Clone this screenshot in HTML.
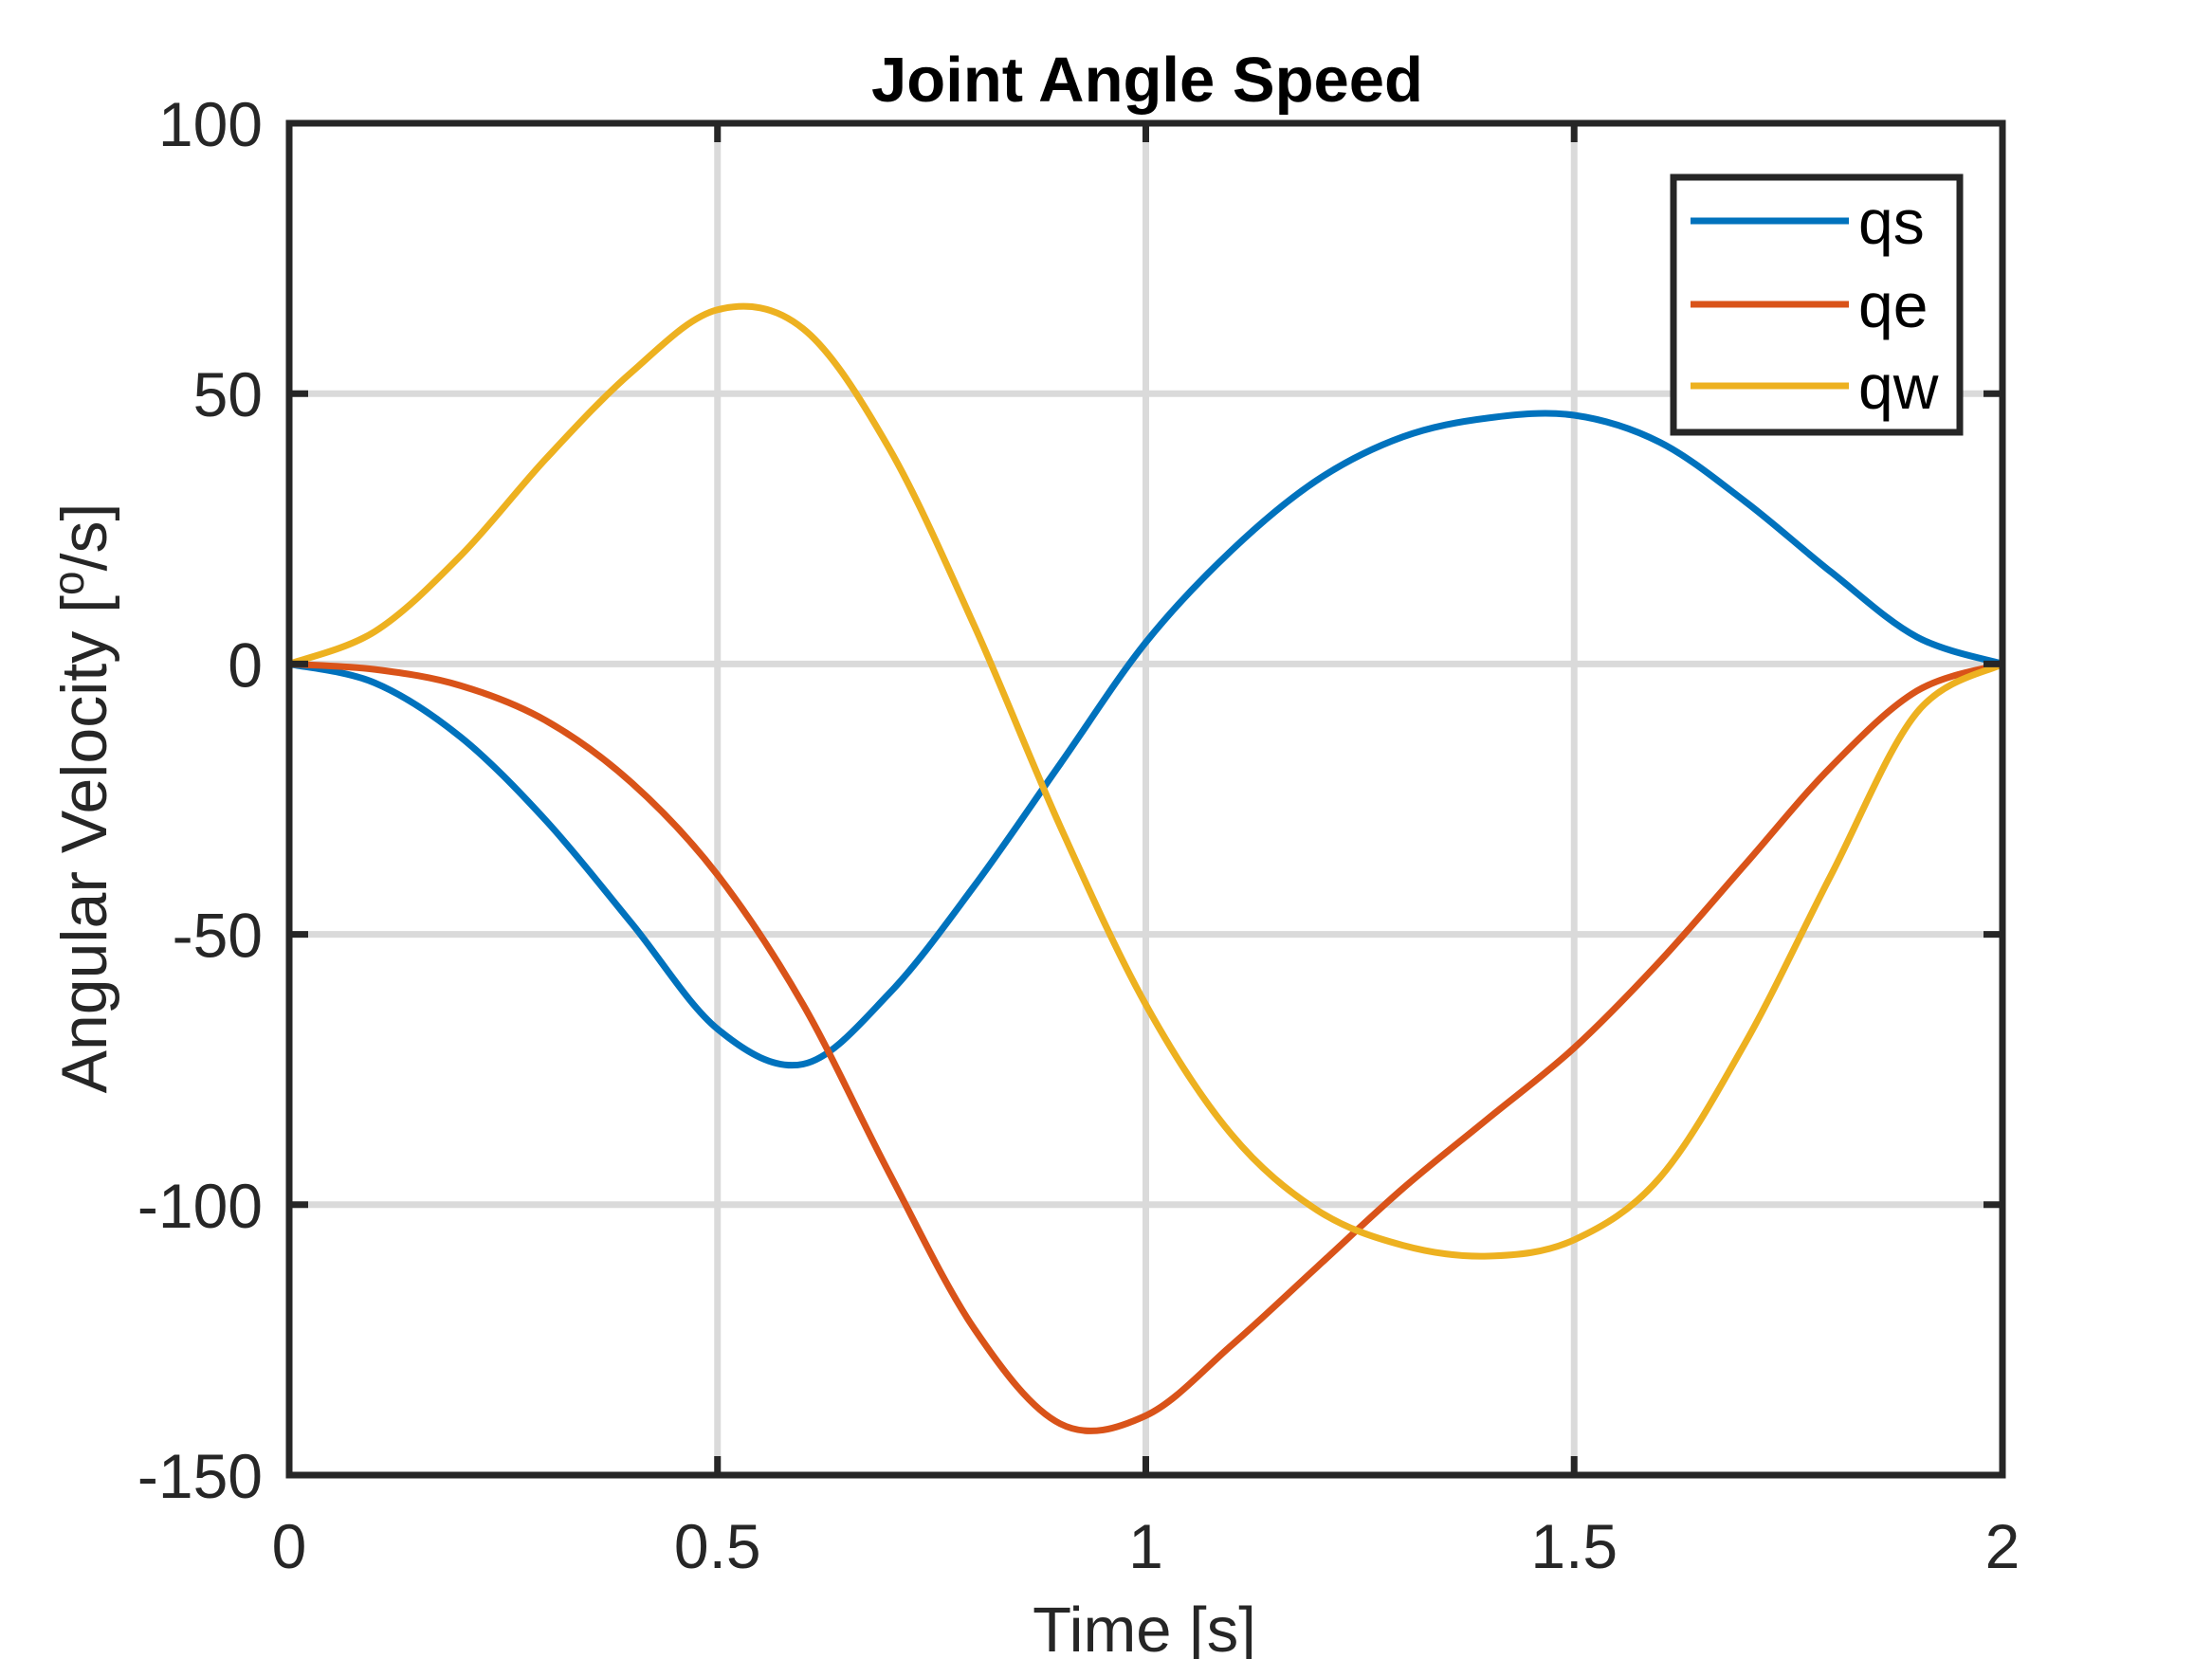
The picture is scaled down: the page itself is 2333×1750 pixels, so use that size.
<!DOCTYPE html>
<html><head><meta charset="utf-8"><style>
html,body{margin:0;padding:0;background:#fff;}
svg{display:block;font-family:"Liberation Sans",Arial,sans-serif;}
</style></head><body>
<svg id="chart" width="2333" height="1750" viewBox="0 0 2333 1750" xmlns="http://www.w3.org/2000/svg">
<rect width="2333" height="1750" fill="#fff"/>
<g id="grid"></g>
<g id="series"></g>
<g id="axes"></g>
<text x="1210" y="107" text-anchor="middle" font-size="67" font-weight="bold" fill="#000">Joint Angle Speed</text>
<text x="1207" y="1742" text-anchor="middle" font-size="67" fill="#262626">Time [s]</text>
<text transform="translate(112,842) rotate(-90)" text-anchor="middle" font-size="68" fill="#262626">Angular Velocity [<tspan font-size="46" dy="-24">o</tspan><tspan dy="24">/s]</tspan></text>
<g id="legend">
<rect x="1765" y="187" width="302" height="269" fill="#fff" stroke="#262626" stroke-width="7"/>
<line x1="1783" y1="233" x2="1950" y2="233" stroke="#0072BD" stroke-width="7"/>
<text x="1960" y="257" font-size="66" fill="#000">qs</text>
<line x1="1783" y1="321" x2="1950" y2="321" stroke="#D95319" stroke-width="7"/>
<text x="1960" y="345" font-size="66" fill="#000">qe</text>
<line x1="1783" y1="407" x2="1950" y2="407" stroke="#EDB120" stroke-width="7"/>
<text x="1960" y="431" font-size="66" fill="#000">qw</text>
</g>
</svg>
<script>
const times = [0,0.1,0.2,0.3,0.4,0.5,0.6,0.7,0.8,0.9,1.0,1.1,1.2,1.3,1.4,1.5,1.6,1.7,1.8,1.9,2.0];
const qsValues = [0,-3.5,-13.5,-29,-48,-67.5,-74,-61,-41,-18.5,4,21,34,42,45.5,46,41,30,17,5,0];
const qeValues = [0,-1,-4,-10.5,-22,-39,-63,-94,-123,-140.5,-139,-126,-111.5,-97,-84,-71,-55,-37,-19,-5,0];
const qwValues = [0,6,20,38,54,65.5,62,40,7,-30,-63,-87,-101,-107.5,-109.5,-106.5,-95,-70,-39,-9,0];
const xTicks = [0,0.5,1,1.5,2];
const xTickLabels = ["0","0.5","1","1.5","2"];
const yTicks = [-150,-100,-50,0,50,100];
const yTickLabels = ["-150","-100","-50","0","50","100"];

const L=305,R=2112,T=130,B=1556;
const xMin=0,xMax=2,yMin=-150,yMax=100;
const sx=v=>L+(v-xMin)/(xMax-xMin)*(R-L);
const sy=v=>B-(v-yMin)/(yMax-yMin)*(B-T);
const NS="http://www.w3.org/2000/svg";
function mk(tag,attrs,parent){const e=document.createElementNS(NS,tag);for(const k in attrs)e.setAttribute(k,attrs[k]);parent.appendChild(e);return e;}
const grid=document.getElementById('grid'),axes=document.getElementById('axes'),series=document.getElementById('series');

xTicks.forEach((t,i)=>{
  const x=sx(t);
  if(i>0&&i<xTicks.length-1){
    const g=mk('line',{x1:x,y1:T,x2:x,y2:B,stroke:'#dadada','stroke-width':7},grid);
    
    
  }
  const t1=mk('line',{x1:x,y1:B,x2:x,y2:B-20,stroke:'#262626','stroke-width':7},axes);
  
  
  const t2=mk('line',{x1:x,y1:T,x2:x,y2:T+20,stroke:'#262626','stroke-width':7},axes);
  
  
  const lb=mk('text',{x:x,y:1654,'text-anchor':'middle','font-size':66,fill:'#262626'},axes);
  lb.textContent=xTickLabels[i];
  
  
});
yTicks.forEach((v,i)=>{
  const y=sy(v);
  if(i>0&&i<yTicks.length-1){
    const g=mk('line',{x1:L,y1:y,x2:R,y2:y,stroke:'#dadada','stroke-width':7},grid);
    
    
  }
  const t1=mk('line',{x1:L,y1:y,x2:L+20,y2:y,stroke:'#262626','stroke-width':7},axes);
  
  
  const t2=mk('line',{x1:R,y1:y,x2:R-20,y2:y,stroke:'#262626','stroke-width':7},axes);
  
  
  const lb=mk('text',{x:L-28,y:y+24,'text-anchor':'end','font-size':66,fill:'#262626'},axes);
  lb.textContent=yTickLabels[i];
  
  
});
const frame=mk('rect',{x:L,y:T,width:R-L,height:B-T,fill:'none',stroke:'#262626','stroke-width':7},axes);



function pathFor(vals){
  const p=times.map((t,i)=>[sx(t),sy(vals[i])]);
  let d=`M${p[0][0]},${p[0][1]}`;
  for(let i=0;i<p.length-1;i++){
    const p0=p[Math.max(i-1,0)],p1=p[i],p2=p[i+1],p3=p[Math.min(i+2,p.length-1)];
    const c1=[p1[0]+(p2[0]-p0[0])/6,p1[1]+(p2[1]-p0[1])/6];
    const c2=[p2[0]-(p3[0]-p1[0])/6,p2[1]-(p3[1]-p1[1])/6];
    d+=` C${c1[0]},${c1[1]} ${c2[0]},${c2[1]} ${p2[0]},${p2[1]}`;
  }
  return d;
}
const s1=mk('path',{d:pathFor(qsValues),fill:'none',stroke:'#0072BD','stroke-width':7,'stroke-linejoin':'round'},series);


const s2=mk('path',{d:pathFor(qeValues),fill:'none',stroke:'#D95319','stroke-width':7,'stroke-linejoin':'round'},series);


const s3=mk('path',{d:pathFor(qwValues),fill:'none',stroke:'#EDB120','stroke-width':7,'stroke-linejoin':'round'},series);


</script>
</body></html>
